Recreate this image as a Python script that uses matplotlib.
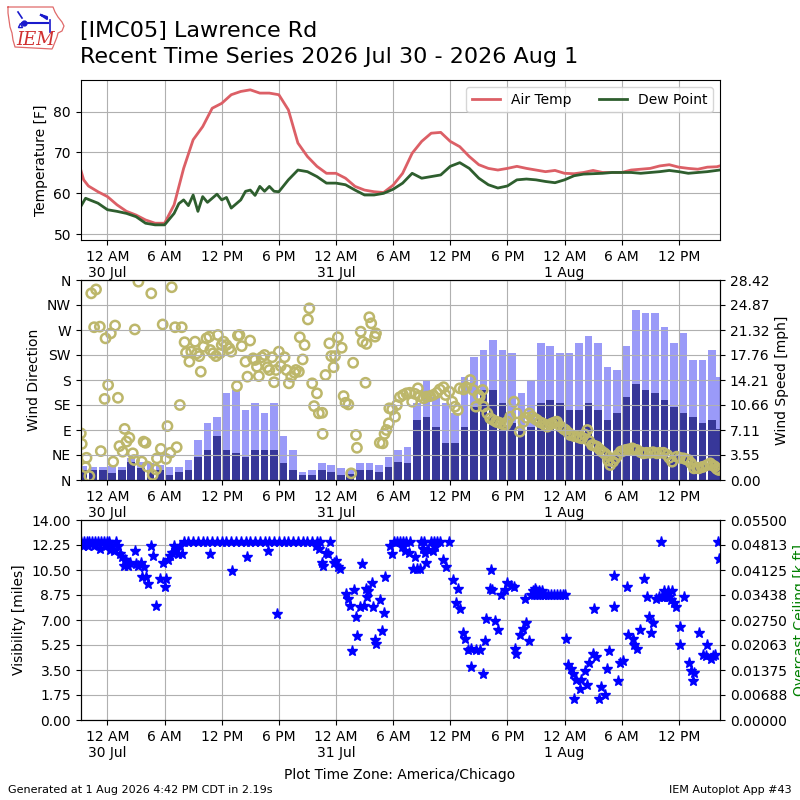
import numpy as np
import pandas as pd
import matplotlib
matplotlib.use('Agg')
import matplotlib.pyplot as plt
import matplotlib.dates as mdates
from matplotlib.ticker import FuncFormatter, FormatStrFormatter

# hours are relative to 2026-07-30 00:00 local time
temp_hours = [-2.8, -2.5, -2, -1, 0, 1, 2, 3, 4, 5, 6, 7, 8, 9, 10, 11, 12, 13, 14, 15,
              16, 17, 18, 19, 20, 21, 22, 23, 24, 25, 26, 27, 28, 29, 30, 31, 32, 33,
              34, 35, 36, 37, 38, 39, 40, 41, 42, 43, 44, 45, 46, 47, 48, 49, 50, 51,
              52, 53, 54, 55, 56, 57, 58, 59, 60, 61, 62, 63, 64, 64.3]
air_temp = [65.7, 63.3, 61.8, 60.4, 59.2, 57.2, 55.6, 54.7, 53.5, 52.7, 52.7, 57.2, 66.1,
            73.1, 76.3, 80.8, 82.0, 84.1, 84.9, 85.3, 84.5, 84.5, 84.1, 80.4, 72.3, 69.0,
            66.6, 64.9, 64.9, 63.7, 61.7, 60.8, 60.4, 60.2, 62.0, 64.9, 69.8, 72.7, 74.7,
            74.9, 72.7, 71.4, 69.0, 67.0, 66.1, 65.7, 66.1, 66.6, 66.1, 65.7, 65.3, 65.6,
            64.9, 64.8, 65.1, 65.6, 65.1, 65.1, 65.1, 65.7, 65.9, 66.1, 66.7, 67.0, 66.4,
            66.1, 65.9, 66.4, 66.5, 66.7]

dew_hours = [-2.8, -2.3, -1, 0, 1, 2, 3, 4, 5, 6, 7, 7.5, 8, 8.5, 9, 9.5, 10, 10.5, 11,
             11.5, 12, 12.5, 13, 14, 14.5, 15, 15.5, 16, 16.5, 17, 17.5, 18, 19, 20, 21,
             22, 23, 24, 25, 26, 27, 28, 29, 30, 31, 32, 33, 34, 35, 36, 37, 38, 39, 40,
             41, 42, 43, 44, 45, 46, 47, 48, 49, 50, 51, 52, 53, 54, 55, 56, 57, 58, 59,
             60, 61, 62, 63, 64.3]
dew_point = [56.8, 58.8, 57.6, 56.0, 55.6, 55.1, 54.3, 52.7, 52.3, 52.3, 55.1, 57.5, 58.4,
             57.0, 59.6, 55.6, 59.2, 57.8, 58.8, 59.8, 58.4, 59.0, 56.4, 58.4, 60.5, 60.8,
             59.5, 61.7, 60.5, 61.7, 60.5, 60.4, 63.3, 65.7, 65.3, 64.1, 62.5, 62.5, 62.1,
             60.8, 59.6, 59.6, 60.0, 61.0, 62.5, 64.9, 63.7, 64.1, 64.5, 66.6, 67.5, 66.1,
             63.7, 62.1, 61.3, 61.8, 63.3, 63.5, 63.3, 62.9, 62.6, 63.3, 64.3, 64.7, 64.8,
             64.9, 65.1, 65.1, 65.1, 64.9, 65.1, 65.3, 65.6, 65.3, 64.9, 65.1, 65.3, 65.7]

wind_hours = [-2.5, -1.5, -0.5, 0.5, 1.5, 2.5, 3.5, 4.5, 5.5, 6.5, 7.5, 8.5, 9.5, 10.5,
              11.5, 12.5, 13.5, 14.5, 15.5, 16.5, 17.5, 18.5, 19.5, 20.5, 21.5, 22.5,
              23.5, 24.5, 25.5, 26.5, 27.5, 28.5, 29.5, 30.5, 31.5, 32.5, 33.5, 34.5,
              35.5, 36.5, 37.5, 38.5, 39.5, 40.5, 41.5, 42.5, 43.5, 44.5, 45.5, 46.5,
              47.5, 48.5, 49.5, 50.5, 51.5, 52.5, 53.5, 54.5, 55.5, 56.5, 57.5, 58.5,
              59.5, 60.5, 61.5, 62.5, 63.5, 64.15]
wind_gust = [2.0, 1.8, 1.8, 2.0, 1.9, 3.1, 2.6, 2.4, 2.1, 1.9, 1.9, 2.8, 5.7, 8.1, 9.0,
             12.3, 12.8, 10.0, 10.9, 9.5, 10.9, 6.2, 4.3, 1.2, 1.4, 2.4, 2.1, 1.7, 1.4,
             2.4, 2.4, 2.1, 3.3, 4.3, 4.7, 10.9, 14.2, 11.8, 10.9, 9.5, 14.7, 17.5, 18.5,
             19.9, 18.5, 18.0, 12.3, 14.2, 19.4, 19.0, 18.0, 18.0, 19.4, 20.4, 19.4, 16.1,
             15.6, 19.0, 24.2, 23.7, 23.7, 21.8, 19.4, 20.9, 17.1, 17.1, 18.5, 14.7]
wind_speed = [1.4, 1.4, 1.4, 1.0, 1.4, 2.6, 1.7, 1.4, 1.4, 0.7, 1.2, 1.4, 3.3, 4.3, 6.2,
              4.3, 3.8, 3.3, 4.3, 4.3, 4.3, 2.4, 1.4, 0.7, 0.7, 1.4, 1.2, 0.7, 0.9, 1.4,
              1.4, 1.2, 1.9, 2.6, 2.4, 8.5, 9.0, 7.6, 5.2, 5.2, 7.6, 10.4, 12.8, 12.8,
              10.9, 8.1, 7.1, 7.6, 10.9, 11.4, 10.9, 10.0, 10.0, 10.9, 10.0, 8.5, 9.5,
              11.8, 13.7, 12.8, 12.3, 11.4, 10.4, 9.5, 9.0, 8.1, 8.5, 7.3]

dir_hours = [-2.8, -2.7, -2.3, -2.2, -1.9, -1.7, -1.4, -1.2, -0.8, -0.7, -0.3, -0.2, 0.07,
             0.35, 0.6, 0.8, 1.1, 1.26, 1.6, 1.8, 2.0, 2.3, 2.66, 2.8, 2.87, 3.25, 3.6,
             3.8, 4.0, 4.2, 4.6, 4.75, 5.1, 5.2, 5.6, 5.8, 6.15, 6.3, 6.6, 6.75, 7.1,
             7.27, 7.6, 7.8, 8.1, 8.25, 8.6, 8.8, 9.2, 9.4, 9.65, 9.8, 10.1, 10.4, 10.7,
             10.8, 11.1, 11.4, 11.6, 11.8, 12.0, 12.2, 12.5, 12.8, 13.0, 13.6, 13.7,
             13.86, 14.1, 14.5, 14.7, 14.98, 15.3, 15.5, 15.7, 15.9, 16.2, 16.5, 16.8,
             17.0, 17.3, 17.5, 17.7, 18.0, 18.2, 18.6, 18.8, 19.05, 19.3, 19.65, 19.8,
             20.1, 20.2, 20.5, 20.7, 21.05, 21.2, 21.5, 21.7, 22.0, 22.2, 22.55, 22.6,
             22.9, 23.3, 23.5, 23.75, 23.9, 24.2, 24.6, 24.8, 25.0, 25.3, 25.6, 25.8,
             26.1, 26.2, 26.6, 26.8, 27.1, 27.2, 27.5, 27.7, 28.1, 28.2, 28.6, 28.9,
             29.1, 29.3, 29.55, 29.6, 29.9, 30.2, 30.4, 30.7, 31.05, 31.4, 31.75, 32.0,
             32.3, 32.6, 32.8, 33.2, 33.5, 33.9, 34.2, 34.6, 34.9, 35.3, 35.5, 35.9,
             36.2, 36.5, 36.8, 37.0, 37.4, 37.7, 38.1, 38.4, 38.7, 38.95, 39.1,
             39.4, 39.5, 39.9, 40.2, 40.5, 40.8, 41.0, 41.3, 41.6, 41.8, 42.0, 42.3,
             42.7, 43.0, 43.3, 43.7, 44.0, 44.3, 44.6, 44.9, 45.1, 45.4, 45.7, 46.0,
             46.2, 46.5, 46.7, 47.0, 47.2, 47.6, 47.9, 48.1, 48.4, 48.6, 49.0, 49.3,
             49.6, 49.85, 50.1, 50.4, 50.6, 50.9, 51.1, 51.4, 51.7, 51.95, 52.2, 52.4,
             52.6, 52.8, 53.1, 53.35, 53.6, 53.9, 54.1, 54.4, 54.7, 55.1, 55.3, 55.6,
             56.0, 56.3, 56.6, 57.0, 57.3, 57.7, 58.0, 58.4, 58.8, 59.0, 59.3, 59.8,
             60.1, 60.5, 60.8, 61.0, 61.3, 61.6, 61.9, 62.1, 62.4, 62.6, 63.0, 63.3,
             63.6, 63.8, 64.0, 64.2]
wind_dir = [84, 65, 23, 40, 7, 336, 275, 343, 276, 52, 146, 255, 171,
            264, 33, 278, 148, 61, 51, 92, 69, 76, 48, 36, 271, 357, 33,
            69, 67, 24, 336, 9, 19, 39, 56, 280, 38, 97, 49, 347, 275,
            59, 135, 275, 248, 229, 213, 231, 249, 228, 223, 195, 240, 255, 258,
            234, 228, 223, 261, 228, 243, 249, 243, 237, 231, 169, 260,
            261, 241, 213, 186, 251, 219, 216, 204, 187, 221, 225, 203,
            198, 221, 176, 198, 231, 205, 221, 198, 174, 186, 193, 198,
            195, 257, 217, 243, 289, 309, 174, 133, 156, 120, 121, 83,
            189, 246, 223, 203, 223, 257, 238, 151, 139, 136, 12, 211,
            81, 58, 267, 249, 175, 245, 293, 282, 258, 264, 67, 66,
            83, 90, 102, 129, 127, 114, 135, 149, 153, 156, 157, 141,
            155, 165, 151, 147, 150, 151, 153, 157, 163, 167, 153, 159,
            141, 132, 126, 165, 163, 167, 180, 162, 132, 153, 150,
            162, 132, 120, 111, 108, 105, 104, 102, 100, 99, 105, 114,
            141, 120, 87, 105, 112, 120, 114, 110, 108, 104, 102, 98,
            96, 100, 102, 104, 105, 96, 92, 90, 85, 81, 79, 78,
            76, 75, 82, 90, 70, 63, 62, 60, 55, 51, 48, 45,
            35, 27, 33, 39, 45, 51, 52, 54, 55, 57, 55, 54,
            50, 48, 49, 49, 50, 48, 49, 49, 45, 40, 33, 42,
            40, 39, 37, 36, 30, 21, 22, 21, 23, 24, 27, 30,
            26, 24, 20, 18]

vis_hours = [-2.8, -2.6, -2.5, -2.2, -2.0, -1.9, -1.6, -1.4, -1.3, -1.0, -0.8, -0.7, -0.4,
             -0.2, -0.1, 0.2, 0.3, 0.5, 0.7, 0.9, 1.1, 1.3, 1.5, 1.7, 1.8, 2.0, 2.2, 2.4,
             2.9, 3.0, 3.2, 3.5, 3.6, 3.8, 4.0, 4.3, 4.6, 4.8, 5.1, 5.5, 5.8, 6.0, 6.2,
             6.4, 6.6, 6.8, 7.0, 7.2, 7.4, 7.6, 7.8,
             8.0, 8.5, 9.0, 9.5, 10.0, 10.5, 11.0, 11.5, 12.0, 12.5, 13.0, 13.5, 14.0,
             14.5, 15.0, 15.5, 16.0, 16.5, 17.0, 17.5, 18.0, 18.5, 19.0, 19.5, 20.0,
             20.5, 21.0, 21.5, 22.0,
             10.8, 13.1, 14.7, 16.9, 17.8, 21.9, 22.2, 22.3, 22.5, 22.6, 23.0, 23.2,
             23.4, 23.8, 24.0, 24.2, 24.4,
             25.0, 25.3, 25.5, 25.7, 25.9, 26.1, 26.2, 26.5, 26.7, 26.9, 27.2, 27.3,
             27.4, 27.8, 27.9, 28.1, 28.2, 28.6, 28.8, 29.0, 29.2, 29.7, 29.9, 30.1, 30.4,
             30.7, 30.9, 31.0, 31.2, 31.4, 31.7, 31.8, 32.1, 32.3, 32.5, 32.8, 32.9,
             33.1, 33.2, 33.3, 33.5, 33.7, 34.0, 34.2, 34.3, 34.4, 34.6, 34.9, 35.2,
             35.6, 35.9,
             36.3, 36.6, 36.8, 37.0, 37.3, 37.5, 37.9, 38.2, 38.2, 38.7, 39.1, 39.4,
             39.6, 39.8, 40.2, 40.3, 40.4, 40.7, 41.0, 41.35, 41.7, 42.0, 42.4, 42.7,
             42.75, 42.9, 43.3, 43.6, 43.9, 43.95, 44.3,
             44.5, 44.8, 45.1, 45.4, 45.7, 46.0, 46.3, 46.6, 46.9, 47.2, 47.5, 47.8,
             48.1, 44.7, 45.0, 45.3, 45.6, 44.9,
             48.2, 48.35, 48.7, 48.9, 48.95, 49.2, 49.6, 49.7, 50.1, 50.4, 50.6, 50.95,
             51.1, 51.3, 51.6, 51.8, 52.2, 52.5, 52.7, 53.2, 53.25, 53.6, 53.8, 54.1,
             54.6, 54.65, 55.2, 55.3, 55.6, 55.9, 56.4, 56.7, 56.9, 57.1, 57.3, 57.6,
             58.1, 57.9, 58.2, 58.4, 58.5, 58.8, 58.9, 59.0, 59.2, 59.3, 59.5, 59.7,
             60.1, 60.15, 60.6, 61.1, 61.3, 61.45, 61.6, 62.15, 62.5, 62.85, 63.0, 63.4,
             63.55, 63.8, 64.1, 64.2]
vis_miles = [12.43, 12.2, 12.43, 12.43, 12.2, 12.43, 12.43, 12.2, 12.43, 12.43, 12.0, 12.43,
             12.43, 12.2, 12.43, 12.43, 11.9, 12.2, 11.8, 12.43, 12.2, 11.6, 11.4, 10.8,
             11.2, 11.0, 10.8, 11.0, 11.8, 10.9, 10.8, 11.0, 10.0, 10.7, 10.0, 9.5, 12.2,
             11.5, 8.0, 9.9, 11.0, 9.3, 9.9, 11.2, 11.5, 11.7, 12.2, 11.9, 11.6, 12.2,
             11.6,
             12.43, 12.43, 12.43, 12.43, 12.43, 12.43, 12.43, 12.43, 12.43, 12.43, 12.43,
             12.43, 12.43, 12.43, 12.43, 12.43, 12.43, 12.43, 12.43, 12.43, 12.43, 12.43,
             12.43, 12.43, 12.43, 12.43, 12.43, 12.43, 12.43,
             11.6, 10.4, 11.4, 11.8, 7.4, 12.2, 12.0, 12.43, 11.0, 10.8, 11.7, 11.6,
             12.43, 11.0, 11.1, 10.7, 10.6,
             8.8, 8.5, 8.0, 4.8, 9.1, 7.2, 5.9, 7.9, 10.9, 8.0, 9.2, 8.6,
             9.0, 9.6, 7.9, 5.6, 5.3, 8.4, 6.2, 7.5, 10.0, 12.2, 11.6, 12.43, 12.43,
             12.43, 12.1, 12.43, 11.8, 12.43, 11.7, 12.43, 10.6, 11.4, 10.6, 10.6, 12.43,
             12.0, 12.43, 11.7, 11.0, 11.9, 12.43, 11.8, 12.43, 12.1, 12.43, 12.43, 11.2,
             10.7, 12.43,
             9.8, 8.2, 9.2, 7.8, 6.1, 5.7, 4.9, 5.0, 3.7, 4.9, 4.9, 3.2,
             5.5, 7.1, 9.2, 10.5, 9.1, 6.9, 6.3, 8.75, 9.1, 9.6, 9.4, 9.3,
             5.0, 4.6, 5.95, 6.4, 8.45, 6.8, 5.55,
             8.75, 8.75, 8.75, 8.75, 8.75, 8.75, 8.75, 8.75, 8.75, 8.75, 8.75, 8.75,
             8.75, 9.0, 9.0, 9.0, 9.0, 9.2,
             5.7, 3.85, 3.6, 3.2, 1.5, 2.8, 2.2, 2.8, 3.4, 2.45, 4.0, 4.6,
             7.8, 4.4, 1.5, 2.3, 1.75, 3.55, 4.8, 7.9, 10.1, 2.7, 4.0, 4.15,
             9.3, 5.95, 5.7, 5.25, 4.95, 6.3, 9.85, 8.6, 7.2, 6.1, 6.8, 8.5,
             12.43, 8.6, 8.6, 9.0, 8.6, 8.6, 9.0, 8.6, 8.4, 9.0, 8.2, 7.9,
             6.5, 5.25, 8.6, 4.0, 3.4, 2.7, 3.3, 6.1, 4.55, 4.45, 5.25, 4.3,
             4.45, 4.55, 12.43, 11.3]

BASE = pd.Timestamp('2026-07-30 00:00')


def to_time(hours):
    return BASE + pd.to_timedelta(np.asarray(hours, dtype=float), unit='h')


def time_label(x, pos=None):
    t = mdates.num2date(x)
    lab = {0: '12 AM', 6: '6 AM', 12: '12 PM', 18: '6 PM'}.get(t.hour, '')
    if t.hour == 0:
        lab += '\n%d %s' % (t.day, t.strftime('%b'))
    return lab


def setup_time_axis(ax):
    ax.xaxis.set_major_locator(mdates.HourLocator(byhour=[0, 6, 12, 18]))
    ax.xaxis.set_major_formatter(FuncFormatter(time_label))
    ax.set_xlim(to_time([-2.8, 64.33]))
    ax.grid(True)


fig = plt.figure(figsize=(8, 8), dpi=100)

# logo (rough IEM mark)
lax = fig.add_axes([0, 1 - 56 / 800, 70 / 800, 56 / 800])
lax.set_xlim(0, 70)
lax.set_ylim(56, 0)
lax.axis('off')
iowa_x = [8, 53, 55, 58, 62, 64, 62, 58, 57, 55, 53, 52, 15, 13, 12, 10, 9, 8, 8]
iowa_y = [7, 7, 12, 17, 22, 26, 31, 33, 37, 42, 47, 49, 47, 40, 33, 27, 20, 13, 7]
lax.plot(iowa_x, iowa_y, color='#e06a6a', lw=0.9)
lax.plot([22, 48], [23, 23], color='#1a1acc', lw=1.5)
lax.plot([18, 22], [12, 18], color='#1a1acc', lw=1.2)
lax.plot([41, 47, 47, 41], [15, 17, 19, 15], color='#1a1acc', lw=1.5)
lax.plot([50, 50], [20, 32], color='#1a1acc', lw=1.2)
lax.plot([24], [23], 'o', color='#1a1acc', ms=3.5)
lax.plot([20], [25], '^', color='#1a1acc', ms=3, mfc='none')
lax.text(16, 45, 'IEM', color='#d03030', fontsize=13, family='serif', style='italic')

fig.text(0.1, 0.954, '[IMC05] Lawrence Rd', fontsize=16, va='baseline')
fig.text(0.1, 0.921, 'Recent Time Series 2026 Jul 30 - 2026 Aug 1', fontsize=16,
         va='baseline')

# temperature panel
ax1 = fig.add_axes([0.101, 0.70, 0.799, 0.20])
ax1.plot(to_time(temp_hours), air_temp, color='#dc5f66', lw=2, label='Air Temp')
ax1.plot(to_time(dew_hours), dew_point, color='#2e5e2e', lw=2, label='Dew Point')
ax1.set_ylim(48.6, 87.7)
ax1.set_yticks([50, 60, 70, 80])
ax1.set_ylabel('Temperature [F]')
ax1.legend(loc='upper right', ncol=2)
setup_time_axis(ax1)

# wind panel
ax2 = fig.add_axes([0.101, 0.40, 0.799, 0.25])
ax2b = ax2.twinx()
ax2.set_zorder(ax2b.get_zorder() + 1)
ax2.patch.set_visible(False)
ax2b.bar(to_time(wind_hours), wind_gust, width=0.8 / 24, color='#9a9af8')
ax2b.bar(to_time(wind_hours), wind_speed, width=0.8 / 24, color='#373799')
ax2b.set_ylim(0, 28.42)
ax2b.set_yticks(np.linspace(0, 28.42, 9))
ax2b.yaxis.set_major_formatter(FormatStrFormatter('%.2f'))
ax2b.set_ylabel('Wind Speed [mph]')
ax2.scatter(to_time(dir_hours), wind_dir, s=45, facecolors='none',
            edgecolors='#bdb76b', linewidths=1.8)
ax2.set_ylim(0, 360)
ax2.set_yticks(range(0, 361, 45))
ax2.set_yticklabels(['N', 'NE', 'E', 'SE', 'S', 'SW', 'W', 'NW', 'N'])
ax2.set_ylabel('Wind Direction')
setup_time_axis(ax2)

# visibility panel
ax3 = fig.add_axes([0.101, 0.10, 0.799, 0.25])
ax3.plot(to_time(vis_hours), vis_miles, '*', color='b', ms=8, linestyle='none')
ax3.set_ylim(0, 14)
ax3.set_yticks(np.arange(0, 14.01, 1.75))
ax3.yaxis.set_major_formatter(FormatStrFormatter('%.2f'))
ax3.set_ylabel('Visibility [miles]')
setup_time_axis(ax3)
ax3b = ax3.twinx()
ax3b.set_ylim(0, 0.055)
ax3b.set_yticks(np.linspace(0, 0.055, 9))
ax3b.yaxis.set_major_formatter(FormatStrFormatter('%.5f'))
ax3b.set_ylabel('Overcast Ceiling [k ft]', color='g')

fig.text(0.5, 0.031, 'Plot Time Zone: America/Chicago', ha='center', va='center',
         fontsize=10)
fig.text(0.01, 0.0125, 'Generated at 1 Aug 2026 4:42 PM CDT in 2.19s', fontsize=8,
         va='center')
fig.text(0.99, 0.0125, 'IEM Autoplot App #43', fontsize=8, ha='right', va='center')

fig.savefig('out.png', dpi=100)
